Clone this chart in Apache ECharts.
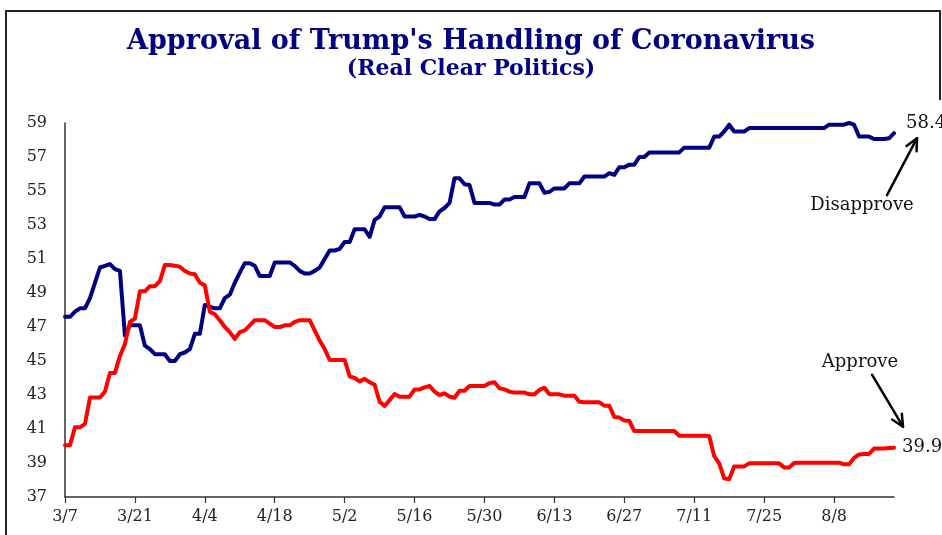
<!DOCTYPE html>
<html>
<head>
<meta charset="utf-8">
<title>Approval of Trump's Handling of Coronavirus</title>
<script src="https://cdn.jsdelivr.net/npm/echarts@6/dist/echarts.min.js"></script>
<style>
  html, body { margin: 0; padding: 0; background: #ffffff; }
  #chart { width: 942px; height: 535px; }
</style>
</head>
<body>
<div id="chart"></div>
<script>
// Daily RCP averages, 3/7 through 8/20
const startMonth = 3, startDay = 7, dayCount = 167;

const disapprove = [
  47.6, 47.6, 47.9, 48.1, 48.1, 48.7, 49.6, 50.5, 50.6, 50.7,
  50.4, 50.3, 46.5, 47.1, 47.1, 47.1, 45.9, 45.7, 45.4, 45.4,
  45.4, 45.0, 45.0, 45.4, 45.5, 45.7, 46.6, 46.6, 48.3, 48.2,
  48.1, 48.1, 48.7, 48.9, 49.6, 50.2, 50.75, 50.75, 50.6, 50.0,
  50.0, 50.0, 50.8, 50.8, 50.8, 50.8, 50.6, 50.3, 50.15, 50.15,
  50.3, 50.5, 51.0, 51.5, 51.5, 51.6, 52.0, 52.0, 52.75, 52.75,
  52.75, 52.3, 53.3, 53.5, 54.05, 54.05, 54.05, 54.05, 53.5, 53.5,
  53.5, 53.6, 53.5, 53.35, 53.35, 53.8, 54.0, 54.3, 55.75, 55.75,
  55.4, 55.35, 54.3, 54.3, 54.3, 54.3, 54.2, 54.2, 54.5, 54.5,
  54.65, 54.65, 54.65, 55.45, 55.45, 55.45, 54.9, 54.95, 55.15, 55.15,
  55.15, 55.45, 55.45, 55.45, 55.85, 55.85, 55.85, 55.85, 55.85, 56.05,
  55.95, 56.4, 56.4, 56.55, 56.55, 57.0, 57.0, 57.27, 57.27, 57.27,
  57.27, 57.27, 57.27, 57.27, 57.55, 57.55, 57.55, 57.55, 57.55, 57.55,
  58.2, 58.2, 58.5, 58.9, 58.5, 58.5, 58.5, 58.7, 58.7, 58.7,
  58.7, 58.7, 58.7, 58.7, 58.7, 58.7, 58.7, 58.7, 58.7, 58.7,
  58.7, 58.7, 58.7, 58.9, 58.9, 58.9, 58.9, 59.0, 58.9, 58.2,
  58.2, 58.2, 58.06, 58.06, 58.06, 58.1, 58.4
];

const approve = [
  40.05, 40.05, 41.1, 41.1, 41.3, 42.85, 42.85, 42.85, 43.2, 44.3,
  44.3, 45.3, 46.0, 47.3, 47.5, 49.1, 49.1, 49.4, 49.4, 49.7,
  50.65, 50.65, 50.6, 50.55, 50.3, 50.15, 50.1, 49.6, 49.45, 47.9,
  47.75, 47.4, 47.0, 46.7, 46.3, 46.7, 46.8, 47.1, 47.4, 47.4,
  47.4, 47.2, 47.0, 47.0, 47.1, 47.1, 47.3, 47.4, 47.4, 47.4,
  46.8, 46.2, 45.7, 45.06, 45.06, 45.06, 45.06, 44.1, 44.0, 43.8,
  43.95, 43.75, 43.6, 42.6, 42.35, 42.7, 43.06, 42.9, 42.9, 42.9,
  43.33, 43.33, 43.45, 43.53, 43.2, 43.0, 43.1, 42.9, 42.84, 43.25,
  43.25, 43.53, 43.53, 43.53, 43.53, 43.7, 43.75, 43.4, 43.33, 43.2,
  43.14, 43.14, 43.14, 43.04, 43.04, 43.3, 43.43, 43.04, 43.04, 43.04,
  42.96, 42.96, 42.96, 42.6, 42.57, 42.57, 42.57, 42.57, 42.37, 42.37,
  41.7, 41.67, 41.5, 41.47, 40.88, 40.88, 40.88, 40.88, 40.88, 40.88,
  40.88, 40.88, 40.88, 40.6, 40.6, 40.6, 40.6, 40.6, 40.6, 40.59,
  39.4, 38.98, 38.1, 38.04, 38.8, 38.8, 38.8, 38.98, 38.98, 38.98,
  38.98, 38.98, 38.98, 38.98, 38.74, 38.74, 39.0, 39.02, 39.02, 39.02,
  39.02, 39.02, 39.02, 39.02, 39.02, 39.02, 38.92, 38.92, 39.3, 39.5,
  39.53, 39.53, 39.85, 39.85, 39.85, 39.88, 39.9
];

const yTicks = { min: 37, max: 59, step: 2 };
const titleText = "Approval of Trump's Handling of Coronavirus";
const subtitleText = '(Real Clear Politics)';
const seriesNames = ['Disapprove', 'Approve'];

// month/day labels for each day of the series
const dates = [];
(function () {
  const d = new Date(2020, startMonth - 1, startDay);
  for (let i = 0; i < dayCount; i++) {
    dates.push((d.getMonth() + 1) + '/' + d.getDate());
    d.setDate(d.getDate() + 1);
  }
})();

const NAVY = '#000080';
const RED = '#ff0000';
const SERIF = '"DejaVu Serif", "Liberation Serif", serif';

const chart = echarts.init(document.getElementById('chart'), null, { renderer: 'canvas' });

const valueLabel = (p) => Number(p.value).toFixed(1);

chart.setOption({
  animation: false,
  backgroundColor: '#ffffff',
  title: [
    {
      text: titleText, left: 'center', top: 23,
      textStyle: { fontFamily: SERIF, fontWeight: 'bold', fontSize: 27, color: NAVY }
    },
    {
      text: subtitleText, left: 'center', top: 53,
      textStyle: { fontFamily: SERIF, fontWeight: 'bold', fontSize: 22, color: NAVY }
    }
  ],
  grid: { left: 65, right: 48, top: 123, bottom: 38, containLabel: false },
  xAxis: {
    type: 'category',
    data: dates,
    boundaryGap: false,
    axisLine: { show: true, lineStyle: { color: '#333', width: 1.5 } },
    axisTick: { show: true, interval: 13, length: 6, lineStyle: { color: '#333', width: 1.2 } },
    axisLabel: {
      interval: 13, margin: 12, color: '#222',
      fontFamily: SERIF, fontSize: 16
    },
    splitLine: { show: false }
  },
  yAxis: {
    type: 'value',
    min: yTicks.min, max: yTicks.max, interval: yTicks.step,
    axisLine: { show: true, lineStyle: { color: '#333', width: 1.5 } },
    axisTick: { show: false },
    axisLabel: { margin: 18, color: '#222', fontFamily: SERIF, fontSize: 16 },
    splitLine: { show: false }
  },
  series: [
    {
      name: seriesNames[0], type: 'line', data: disapprove,
      symbol: 'none', smooth: false,
      lineStyle: { color: NAVY, width: 4, cap: 'round', join: 'round' },
      endLabel: {
        show: true, formatter: valueLabel, distance: 8, offset: [4, -10],
        color: '#111', fontFamily: SERIF, fontSize: 18
      }
    },
    {
      name: seriesNames[1], type: 'line', data: approve,
      symbol: 'none', smooth: false,
      lineStyle: { color: RED, width: 4, cap: 'round', join: 'round' },
      endLabel: {
        show: true, formatter: valueLabel, distance: 8, offset: [0, 0],
        color: '#111', fontFamily: SERIF, fontSize: 18
      }
    }
  ]
});

// Callout arrows and series names, placed relative to each series' last point
function arrow(x1, y1, x2, y2) {
  const ang = Math.atan2(y2 - y1, x2 - x1);
  const len = 13, spread = 0.45;
  const a1 = [x2 - len * Math.cos(ang - spread), y2 - len * Math.sin(ang - spread)];
  const a2 = [x2 - len * Math.cos(ang + spread), y2 - len * Math.sin(ang + spread)];
  const style = { stroke: '#000', lineWidth: 2.5, lineCap: 'round', lineJoin: 'round' };
  return [
    { type: 'line', shape: { x1, y1, x2, y2 }, style },
    { type: 'polyline', shape: { points: [a1, [x2, y2], a2] }, style: Object.assign({ fill: null }, style) }
  ];
}

const last = dayCount - 1;
const pD = chart.convertToPixel({ seriesIndex: 0 }, [last, disapprove[last]]);
const pA = chart.convertToPixel({ seriesIndex: 1 }, [last, approve[last]]);

const labelStyle = { fontFamily: SERIF, fontSize: 18, fill: '#111', textAlign: 'center', textVerticalAlign: 'middle' };

const graphics = [
  // outer frame (the plot panel covers its lower right side)
  {
    type: 'polyline', silent: true,
    shape: { points: [[6, 540], [6, 11], [940, 11], [940, 100]] },
    style: { stroke: '#222', lineWidth: 2, fill: null }
  },
  { type: 'text', style: Object.assign({ text: seriesNames[0], x: pD[0] - 32, y: pD[1] + 72 }, labelStyle) },
  { type: 'text', style: Object.assign({ text: seriesNames[1], x: pA[0] - 34, y: pA[1] - 85 }, labelStyle) }
]
  .concat(arrow(pD[0] - 7, pD[1] + 62, pD[0] + 23, pD[1] + 5))
  .concat(arrow(pA[0] - 22, pA[1] - 73, pA[0] + 9, pA[1] - 21));

chart.setOption({ graphic: graphics });
</script>
</body>
</html>
